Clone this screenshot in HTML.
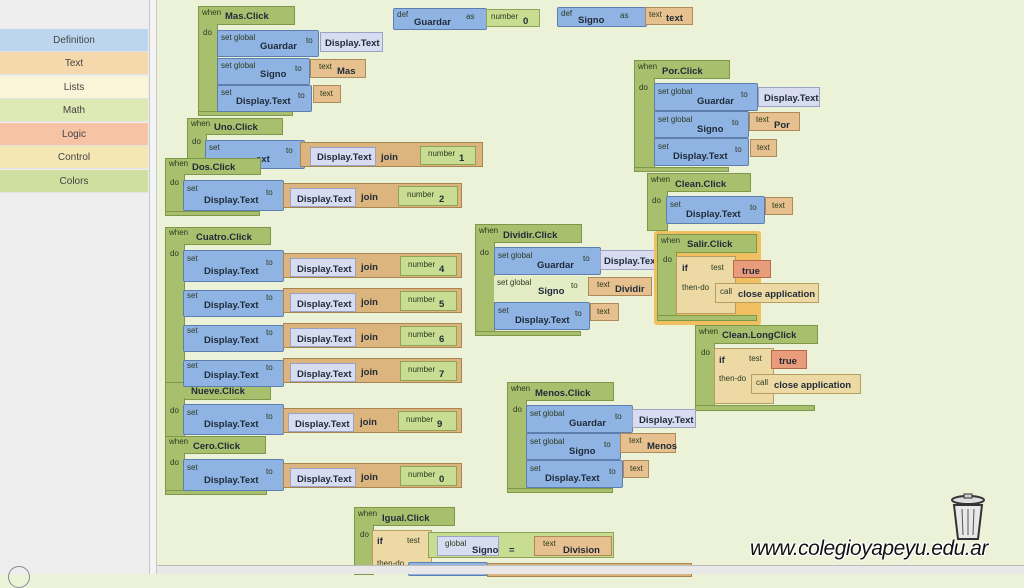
<!DOCTYPE html>
<html><head><meta charset="utf-8"><style>
*{margin:0;padding:0;box-sizing:border-box}
body{width:1024px;height:574px;overflow:hidden;background:#ecf2d8;font-family:"Liberation Sans",sans-serif;position:relative}
div,span{position:absolute;white-space:nowrap}
.g{background:#a8bf6e;border:1px solid #7f9749}
.b{background:#8fb3e2;border:1px solid #5d7fb0;border-radius:2px}
.l{background:#d7dcf1;border:1px solid #9aa3c4}
.o{background:#e6c08e;border:1px solid #ad8a5a}
.j{background:#dcb47e;border:1px solid #a98550}
.n{background:#c8dc92;border:1px solid #8ea356}
.r{background:#e89c7c;border:1px solid #b56a4c}
.y{background:#ecd9a4;border:1px solid #b59e60}
.s{font-size:8px;color:#2c3a20}
.k{font-size:9.5px;font-weight:bold;color:#1e2a38}
.side{left:0;width:148px;height:23px;font-size:10px;color:#444;text-align:center;line-height:23px;border-bottom:1px solid #e3e3e3}
</style></head><body>
<!-- sidebar -->
<div style="left:0;top:0;width:150px;height:574px;background:#eeeeee;border-right:1px solid #c8c8c8"></div>
<div style="left:150px;top:0;width:7px;height:574px;background:#f4f4f4;border-right:1px solid #c8c8c8"></div>
<div class="side" style="top:29px;background:#bcd6ef">Definition</div>
<div class="side" style="top:52px;background:#f5d9ad">Text</div>
<div class="side" style="top:76px;background:#faf4d9">Lists</div>
<div class="side" style="top:99px;background:#dfe9b6">Math</div>
<div class="side" style="top:123px;background:#f6c3a4">Logic</div>
<div class="side" style="top:146px;background:#f5e7b4">Control</div>
<div class="side" style="top:170px;background:#cfdf9f">Colors</div>
<div style="left:8px;top:566px;width:22px;height:22px;border:1px solid #889;border-radius:50%"></div>

<!-- def blocks -->
<div class="b" style="left:393px;top:8px;width:94px;height:22px"><span class="s" style="left:3px;top:1px">def</span><span class="k" style="left:20px;top:8px">Guardar</span><span class="s" style="left:72px;top:3px">as</span></div>
<div class="n" style="left:486px;top:9px;width:54px;height:18px"><span class="s" style="left:4px;top:2px">number</span><span class="k" style="left:36px;top:6px">0</span></div>
<div class="b" style="left:557px;top:7px;width:90px;height:20px"><span class="s" style="left:3px;top:1px">def</span><span class="k" style="left:20px;top:7px">Signo</span><span class="s" style="left:62px;top:3px">as</span></div>
<div class="o" style="left:645px;top:7px;width:48px;height:18px"><span class="s" style="left:3px;top:2px">text</span><span class="k" style="left:20px;top:5px">text</span></div>

<!-- Mas.Click -->
<div class="g" style="left:198px;top:6px;width:97px;height:19px"><span class="s" style="left:3px;top:1px">when</span><span class="k" style="left:26px;top:4px">Mas.Click</span></div>
<div class="g" style="left:198px;top:24px;width:20px;height:92px;border-top:none"><span class="s" style="left:4px;top:4px">do</span></div>
<div class="g" style="left:198px;top:111px;width:95px;height:5px"></div>
<div class="b" style="left:217px;top:30px;width:102px;height:27px"><span class="s" style="left:3px;top:2px">set global</span><span class="k" style="left:42px;top:10px">Guardar</span><span class="s" style="left:88px;top:5px">to</span></div>
<div class="l" style="left:320px;top:32px;width:63px;height:20px"><span class="k" style="left:4px;top:5px">Display.Text</span></div>
<div class="b" style="left:217px;top:58px;width:93px;height:27px"><span class="s" style="left:3px;top:2px">set global</span><span class="k" style="left:42px;top:10px">Signo</span><span class="s" style="left:77px;top:5px">to</span></div>
<div class="o" style="left:310px;top:59px;width:56px;height:19px"><span class="s" style="left:8px;top:2px">text</span><span class="k" style="left:26px;top:6px">Mas</span></div>
<div class="b" style="left:217px;top:85px;width:95px;height:27px"><span class="s" style="left:3px;top:2px">set</span><span class="k" style="left:18px;top:10px">Display.Text</span><span class="s" style="left:80px;top:5px">to</span></div>
<div class="o" style="left:313px;top:85px;width:28px;height:18px"><span class="s" style="left:6px;top:3px">text</span></div>

<!-- Uno.Click -->
<div class="g" style="left:187px;top:118px;width:96px;height:17px"><span class="s" style="left:3px;top:0px">when</span><span class="k" style="left:26px;top:3px">Uno.Click</span></div>
<div class="g" style="left:187px;top:134px;width:20px;height:30px;border-top:none"><span class="s" style="left:4px;top:3px">do</span></div>
<div class="b" style="left:205px;top:140px;width:100px;height:29px"><span class="s" style="left:3px;top:2px">set</span><span class="k" style="left:50px;top:13px">ext</span><span class="s" style="left:80px;top:5px">to</span></div>
<div class="j" style="left:300px;top:142px;width:183px;height:25px"></div>
<div class="l" style="left:310px;top:147px;width:66px;height:19px"><span class="k" style="left:6px;top:4px">Display.Text</span></div>
<span class="k" style="left:381px;top:152px">join</span>
<div class="n" style="left:420px;top:146px;width:56px;height:19px"><span class="s" style="left:7px;top:2px">number</span><span class="k" style="left:38px;top:6px">1</span></div>

<!-- Dos.Click -->
<div class="g" style="left:165px;top:158px;width:96px;height:17px"><span class="s" style="left:3px;top:0px">when</span><span class="k" style="left:26px;top:3px">Dos.Click</span></div>
<div class="g" style="left:165px;top:174px;width:20px;height:42px;border-top:none"><span class="s" style="left:4px;top:4px">do</span></div>
<div class="g" style="left:165px;top:211px;width:95px;height:5px"></div>
<div class="b" style="left:183px;top:180px;width:101px;height:31px"><span class="s" style="left:3px;top:3px">set</span><span class="k" style="left:20px;top:14px">Display.Text</span><span class="s" style="left:82px;top:7px">to</span></div>
<div class="j" style="left:283px;top:183px;width:179px;height:25px"></div>
<div class="l" style="left:290px;top:188px;width:66px;height:19px"><span class="k" style="left:6px;top:5px">Display.Text</span></div>
<span class="k" style="left:361px;top:192px">join</span>
<div class="n" style="left:398px;top:186px;width:60px;height:20px"><span class="s" style="left:8px;top:3px">number</span><span class="k" style="left:40px;top:7px">2</span></div>

<!-- Cuatro.Click stack -->
<div class="g" style="left:165px;top:227px;width:106px;height:18px"><span class="s" style="left:3px;top:0px">when</span><span class="k" style="left:30px;top:4px">Cuatro.Click</span></div>
<div class="g" style="left:165px;top:244px;width:20px;height:150px;border-top:none"><span class="s" style="left:4px;top:5px">do</span></div>
<div class="g" style="left:165px;top:382px;width:106px;height:18px"><span class="k" style="left:25px;top:3px">Nueve.Click</span></div>
<div class="g" style="left:165px;top:398px;width:20px;height:40px;border-top:none"><span class="s" style="left:4px;top:8px">do</span></div>

<div class="b" style="left:183px;top:250px;width:101px;height:32px"><span class="s" style="left:3px;top:3px">set</span><span class="k" style="left:20px;top:15px">Display.Text</span><span class="s" style="left:82px;top:7px">to</span></div>
<div class="j" style="left:283px;top:253px;width:179px;height:25px"></div>
<div class="l" style="left:290px;top:258px;width:66px;height:19px"><span class="k" style="left:6px;top:5px">Display.Text</span></div>
<span class="k" style="left:361px;top:262px">join</span>
<div class="n" style="left:400px;top:256px;width:57px;height:20px"><span class="s" style="left:7px;top:3px">number</span><span class="k" style="left:38px;top:7px">4</span></div>

<div class="b" style="left:183px;top:290px;width:101px;height:27px"><span class="s" style="left:3px;top:0px">set</span><span class="k" style="left:20px;top:9px">Display.Text</span><span class="s" style="left:82px;top:2px">to</span></div>
<div class="j" style="left:283px;top:288px;width:179px;height:25px"></div>
<div class="l" style="left:290px;top:293px;width:66px;height:19px"><span class="k" style="left:6px;top:5px">Display.Text</span></div>
<span class="k" style="left:361px;top:297px">join</span>
<div class="n" style="left:400px;top:291px;width:57px;height:20px"><span class="s" style="left:7px;top:3px">number</span><span class="k" style="left:38px;top:7px">5</span></div>

<div class="b" style="left:183px;top:325px;width:101px;height:27px"><span class="s" style="left:3px;top:0px">set</span><span class="k" style="left:20px;top:9px">Display.Text</span><span class="s" style="left:82px;top:2px">to</span></div>
<div class="j" style="left:283px;top:323px;width:179px;height:25px"></div>
<div class="l" style="left:290px;top:328px;width:66px;height:19px"><span class="k" style="left:6px;top:5px">Display.Text</span></div>
<span class="k" style="left:361px;top:332px">join</span>
<div class="n" style="left:400px;top:326px;width:57px;height:20px"><span class="s" style="left:7px;top:3px">number</span><span class="k" style="left:38px;top:7px">6</span></div>

<div class="b" style="left:183px;top:360px;width:101px;height:27px"><span class="s" style="left:3px;top:0px">set</span><span class="k" style="left:20px;top:9px">Display.Text</span><span class="s" style="left:82px;top:2px">to</span></div>
<div class="j" style="left:283px;top:358px;width:179px;height:25px"></div>
<div class="l" style="left:290px;top:363px;width:66px;height:19px"><span class="k" style="left:6px;top:5px">Display.Text</span></div>
<span class="k" style="left:361px;top:367px">join</span>
<div class="n" style="left:400px;top:361px;width:57px;height:20px"><span class="s" style="left:7px;top:3px">number</span><span class="k" style="left:38px;top:7px">7</span></div>

<div class="b" style="left:183px;top:404px;width:101px;height:31px"><span class="s" style="left:3px;top:3px">set</span><span class="k" style="left:20px;top:14px">Display.Text</span><span class="s" style="left:82px;top:7px">to</span></div>
<div class="j" style="left:283px;top:408px;width:179px;height:25px"></div>
<div class="l" style="left:288px;top:413px;width:66px;height:19px"><span class="k" style="left:6px;top:5px">Display.Text</span></div>
<span class="k" style="left:360px;top:417px">join</span>
<div class="n" style="left:398px;top:411px;width:59px;height:20px"><span class="s" style="left:7px;top:3px">number</span><span class="k" style="left:38px;top:7px">9</span></div>

<!-- Cero -->
<div class="g" style="left:165px;top:436px;width:101px;height:18px"><span class="s" style="left:3px;top:0px">when</span><span class="k" style="left:27px;top:4px">Cero.Click</span></div>
<div class="g" style="left:165px;top:453px;width:20px;height:42px;border-top:none"><span class="s" style="left:4px;top:5px">do</span></div>
<div class="g" style="left:165px;top:490px;width:102px;height:5px"></div>
<div class="b" style="left:183px;top:459px;width:101px;height:32px"><span class="s" style="left:3px;top:3px">set</span><span class="k" style="left:20px;top:15px">Display.Text</span><span class="s" style="left:82px;top:7px">to</span></div>
<div class="j" style="left:283px;top:463px;width:179px;height:25px"></div>
<div class="l" style="left:290px;top:468px;width:66px;height:19px"><span class="k" style="left:6px;top:5px">Display.Text</span></div>
<span class="k" style="left:361px;top:472px">join</span>
<div class="n" style="left:400px;top:466px;width:57px;height:20px"><span class="s" style="left:7px;top:3px">number</span><span class="k" style="left:38px;top:7px">0</span></div>

<!-- Dividir.Click -->
<div class="g" style="left:475px;top:224px;width:107px;height:19px"><span class="s" style="left:3px;top:1px">when</span><span class="k" style="left:27px;top:5px">Dividir.Click</span></div>
<div class="g" style="left:475px;top:242px;width:20px;height:94px;border-top:none"><span class="s" style="left:4px;top:6px">do</span></div>
<div class="g" style="left:475px;top:331px;width:106px;height:5px"></div>
<div class="b" style="left:494px;top:247px;width:107px;height:28px"><span class="s" style="left:3px;top:3px">set global</span><span class="k" style="left:42px;top:12px">Guardar</span><span class="s" style="left:88px;top:6px">to</span></div>
<div class="l" style="left:600px;top:250px;width:58px;height:20px;overflow:hidden"><span class="k" style="left:3px;top:5px">Display.Text</span></div>
<div style="left:494px;top:276px;width:94px;height:26px;background:#e3ecc5"><span class="s" style="left:3px;top:2px">set global</span><span class="k" style="left:44px;top:10px">Signo</span><span class="s" style="left:77px;top:5px">to</span></div>
<div class="o" style="left:588px;top:277px;width:64px;height:19px"><span class="s" style="left:8px;top:2px">text</span><span class="k" style="left:26px;top:6px">Dividir</span></div>
<div class="b" style="left:494px;top:302px;width:96px;height:28px"><span class="s" style="left:3px;top:3px">set</span><span class="k" style="left:20px;top:12px">Display.Text</span><span class="s" style="left:80px;top:6px">to</span></div>
<div class="o" style="left:590px;top:303px;width:29px;height:18px"><span class="s" style="left:6px;top:3px">text</span></div>

<!-- Por.Click -->
<div class="g" style="left:634px;top:60px;width:96px;height:19px"><span class="s" style="left:3px;top:1px">when</span><span class="k" style="left:27px;top:5px">Por.Click</span></div>
<div class="g" style="left:634px;top:78px;width:21px;height:94px;border-top:none"><span class="s" style="left:4px;top:5px">do</span></div>
<div class="g" style="left:634px;top:167px;width:95px;height:5px"></div>
<div class="b" style="left:654px;top:83px;width:104px;height:28px"><span class="s" style="left:3px;top:3px">set global</span><span class="k" style="left:42px;top:12px">Guardar</span><span class="s" style="left:86px;top:6px">to</span></div>
<div class="l" style="left:758px;top:87px;width:62px;height:20px"><span class="k" style="left:5px;top:5px">Display.Text</span></div>
<div class="b" style="left:654px;top:111px;width:95px;height:27px"><span class="s" style="left:3px;top:3px">set global</span><span class="k" style="left:42px;top:12px">Signo</span><span class="s" style="left:77px;top:6px">to</span></div>
<div class="o" style="left:749px;top:112px;width:51px;height:19px"><span class="s" style="left:6px;top:2px">text</span><span class="k" style="left:24px;top:7px">Por</span></div>
<div class="b" style="left:654px;top:138px;width:95px;height:28px"><span class="s" style="left:3px;top:3px">set</span><span class="k" style="left:18px;top:12px">Display.Text</span><span class="s" style="left:80px;top:6px">to</span></div>
<div class="o" style="left:750px;top:139px;width:27px;height:18px"><span class="s" style="left:6px;top:3px">text</span></div>

<!-- Clean.Click -->
<div class="g" style="left:647px;top:173px;width:104px;height:19px"><span class="s" style="left:3px;top:1px">when</span><span class="k" style="left:27px;top:5px">Clean.Click</span></div>
<div class="g" style="left:647px;top:191px;width:21px;height:40px;border-top:none"><span class="s" style="left:4px;top:5px">do</span></div>
<div class="b" style="left:666px;top:196px;width:99px;height:28px"><span class="s" style="left:3px;top:3px">set</span><span class="k" style="left:19px;top:12px">Display.Text</span><span class="s" style="left:83px;top:6px">to</span></div>
<div class="o" style="left:765px;top:197px;width:28px;height:18px"><span class="s" style="left:6px;top:3px">text</span></div>

<!-- Salir.Click -->
<div style="left:654px;top:231px;width:107px;height:94px;background:#f0c060;border-radius:3px"></div>
<div class="g" style="left:657px;top:234px;width:100px;height:19px"><span class="s" style="left:3px;top:1px">when</span><span class="k" style="left:29px;top:4px">Salir.Click</span></div>
<div class="g" style="left:657px;top:252px;width:20px;height:69px;border-top:none"><span class="s" style="left:5px;top:3px">do</span></div>
<div class="g" style="left:657px;top:315px;width:100px;height:6px"></div>
<div class="y" style="left:676px;top:256px;width:60px;height:58px"><span class="k" style="left:5px;top:6px">if</span><span class="s" style="left:34px;top:6px">test</span><span class="s" style="left:5px;top:26px">then-do</span></div>
<div class="r" style="left:733px;top:260px;width:38px;height:18px"><span class="k" style="left:8px;top:5px">true</span></div>
<div class="y" style="left:715px;top:283px;width:104px;height:20px"><span class="s" style="left:4px;top:3px">call</span><span class="k" style="left:22px;top:5px">close application</span></div>

<!-- Clean.LongClick -->
<div class="g" style="left:695px;top:325px;width:123px;height:19px"><span class="s" style="left:3px;top:1px">when</span><span class="k" style="left:26px;top:4px">Clean.LongClick</span></div>
<div class="g" style="left:695px;top:343px;width:20px;height:68px;border-top:none"><span class="s" style="left:5px;top:5px">do</span></div>
<div class="g" style="left:695px;top:405px;width:120px;height:6px"></div>
<div class="y" style="left:714px;top:348px;width:60px;height:56px"><span class="k" style="left:4px;top:6px">if</span><span class="s" style="left:34px;top:5px">test</span><span class="s" style="left:4px;top:25px">then-do</span></div>
<div class="r" style="left:771px;top:350px;width:36px;height:19px"><span class="k" style="left:7px;top:5px">true</span></div>
<div class="y" style="left:751px;top:374px;width:110px;height:20px"><span class="s" style="left:4px;top:3px">call</span><span class="k" style="left:22px;top:5px">close application</span></div>

<!-- Menos.Click -->
<div class="g" style="left:507px;top:382px;width:107px;height:19px"><span class="s" style="left:3px;top:1px">when</span><span class="k" style="left:27px;top:5px">Menos.Click</span></div>
<div class="g" style="left:507px;top:400px;width:20px;height:93px;border-top:none"><span class="s" style="left:5px;top:5px">do</span></div>
<div class="g" style="left:507px;top:488px;width:106px;height:5px"></div>
<div class="b" style="left:526px;top:405px;width:107px;height:28px"><span class="s" style="left:3px;top:3px">set global</span><span class="k" style="left:42px;top:12px">Guardar</span><span class="s" style="left:88px;top:6px">to</span></div>
<div class="l" style="left:632px;top:409px;width:64px;height:19px"><span class="k" style="left:6px;top:5px">Display.Text</span></div>
<div class="b" style="left:526px;top:433px;width:95px;height:27px"><span class="s" style="left:3px;top:3px">set global</span><span class="k" style="left:42px;top:12px">Signo</span><span class="s" style="left:77px;top:6px">to</span></div>
<div class="o" style="left:620px;top:433px;width:56px;height:20px"><span class="s" style="left:8px;top:2px">text</span><span class="k" style="left:26px;top:7px">Menos</span></div>
<div class="b" style="left:526px;top:460px;width:97px;height:28px"><span class="s" style="left:3px;top:3px">set</span><span class="k" style="left:18px;top:12px">Display.Text</span><span class="s" style="left:82px;top:6px">to</span></div>
<div class="o" style="left:623px;top:460px;width:26px;height:18px"><span class="s" style="left:6px;top:3px">text</span></div>

<!-- Igual.Click -->
<div class="g" style="left:354px;top:507px;width:101px;height:19px"><span class="s" style="left:3px;top:1px">when</span><span class="k" style="left:27px;top:5px">Igual.Click</span></div>
<div class="g" style="left:354px;top:525px;width:20px;height:50px;border-top:none"><span class="s" style="left:5px;top:5px">do</span></div>
<div class="y" style="left:372px;top:530px;width:60px;height:44px"><span class="k" style="left:4px;top:5px">if</span><span class="s" style="left:34px;top:5px">test</span><span class="s" style="left:4px;top:28px">then-do</span></div>
<div class="n" style="left:428px;top:532px;width:186px;height:26px"></div>
<div class="l" style="left:437px;top:536px;width:62px;height:20px"><span class="s" style="left:7px;top:2px">global</span><span class="k" style="left:34px;top:8px">Signo</span></div>
<span class="k" style="left:509px;top:545px">=</span>
<div class="o" style="left:534px;top:536px;width:78px;height:20px"><span class="s" style="left:8px;top:2px">text</span><span class="k" style="left:28px;top:8px">Division</span></div>
<div class="b" style="left:408px;top:562px;width:80px;height:14px"></div>
<div class="j" style="left:487px;top:563px;width:205px;height:14px"></div>

<!-- scrollbar -->
<div style="left:157px;top:565px;width:867px;height:9px;background:#e8e8e8;border-top:1px solid #bbb"></div>

<!-- trash -->
<svg style="position:absolute;left:946px;top:493px" width="44" height="50"><ellipse cx="22" cy="7" rx="16" ry="4" fill="#ddd" stroke="#333" stroke-width="2"/><rect x="18" y="1" width="8" height="4" fill="#ccc" stroke="#333"/><path d="M8 12 L12 46 L32 46 L36 12 Z" fill="#e8e8e8" stroke="#333" stroke-width="2"/><path d="M16 16 L17 42 M22 16 L22 42 M28 16 L27 42" stroke="#555"/></svg>
<div style="left:750px;top:537px;font-size:21px;font-style:italic;color:#111;letter-spacing:-0.5px;text-shadow:1px 1px 0 #fff,-1px -1px 0 #fff,1px -1px 0 #fff,-1px 1px 0 #fff">www.colegioyapeyu.edu.ar</div>
</body></html>
